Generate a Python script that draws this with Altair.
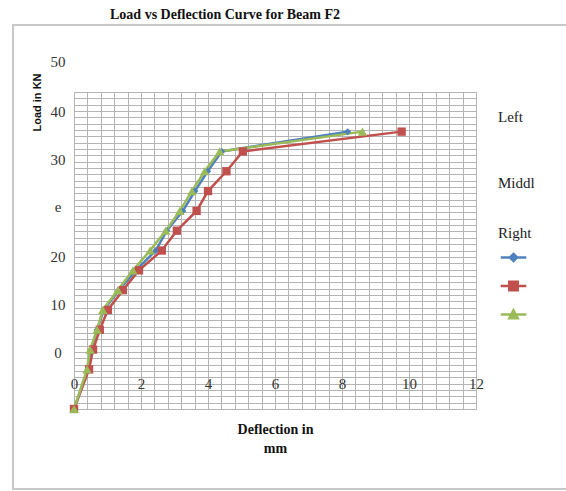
import altair as alt
import pandas as pd

# ---------------- data ----------------
series = ["Left", "Middl", "Right"]
load_kn = [0, 5, 7.5, 10, 12.5, 15, 17.5, 20, 22.5, 25, 27.5, 30, 32.5, 35]
defl_left = [0, 0.42, 0.51, 0.69, 0.89, 1.34, 1.85, 2.44, 2.77, 3.25, 3.61, 3.99, 4.41, 8.17]
defl_middl = [0, 0.45, 0.57, 0.77, 1.01, 1.46, 1.94, 2.62, 3.07, 3.66, 4.00, 4.55, 5.04, 9.78]
defl_right = [0, 0.39, 0.48, 0.69, 0.86, 1.31, 1.76, 2.27, 2.74, 3.16, 3.52, 3.90, 4.35, 8.61]
y_tick_labels = ["50", "40", "30", "e", "20", "10", "0"]
legend_labels = ["Left", "Middl", "Right"]

# ---------------- styling / layout ----------------
colors = ["#4f81bd", "#c0504d", "#9bbb59"]
marker_shapes = ["diamond", "square", "triangle-up"]
marker_sizes = [49, 90, 70]
legend_paths = [
    "M-3.2,0H3.2M0,-0.9L0.9,0L0,0.9L-0.9,0Z",
    "M-3.2,0H3.2M-1.05,-1.05H1.05V1.05H-1.05Z",
    "M-3.2,0H3.2M0,-1.05L1.05,0.95H-1.05Z",
]
W, H = 402, 317
SERIF = "Liberation Serif"
SANS = "Liberation Sans"
y_label_px = [-30, 20, 68, 115, 165, 213, 261]
legend_label_px = [25, 91, 141]

rows = []
for s, d in zip(series, [defl_left, defl_middl, defl_right]):
    for l, v in zip(load_kn, d):
        rows.append({"series": s, "defl": v, "load": l})
df = pd.DataFrame(rows)

grid_x = [i * 0.4 for i in range(31)]
grid_y = [i * 0.8 for i in range(51)]

x_scale = alt.Scale(domain=[0, 12], nice=False, zero=False)
y_scale = alt.Scale(domain=[0, 40], nice=False, zero=False)
color_scale = alt.Scale(domain=series, range=colors)

x_axis = alt.Axis(
    values=grid_x, grid=True, gridColor="#b4b4b4", gridWidth=1,
    ticks=False, domain=False,
    labelExpr="abs(datum.value - 2*round(datum.value/2)) < 0.01 ? format(datum.value, 'd') : ''",
    labelFont=SERIF, labelFontSize=15, labelColor="#333333",
    labelPadding=-26, labelBaseline="middle", labelOverlap=False, labelFlush=False,
    title=["Deflection in", "mm"], titleFont=SERIF, titleFontSize=14,
    titleFontWeight="bold", titleColor="#111111", titleX=201, titleY=13,
    titleBaseline="top", titleLineHeight=19, titleAlign="center",
)
y_axis = alt.Axis(
    values=grid_y, grid=True, gridColor="#b4b4b4", gridWidth=1,
    ticks=False, domain=False, labels=False,
    title="Load in KN", titleFont=SANS, titleFontSize=11, titleFontWeight="bold",
    titleColor="#111111", titleX=-37, titleY=10, titleAngle=270,
    titleAlign="center", titleBaseline="middle",
)

base = alt.Chart(df).encode(
    x=alt.X("defl:Q", scale=x_scale, axis=x_axis),
    y=alt.Y("load:Q", scale=y_scale, axis=y_axis),
)

lines = base.mark_line(strokeWidth=2.5).encode(
    color=alt.Color("series:N", scale=color_scale, legend=None),
    order=alt.Order("load:Q"),
)
points = base.mark_point(filled=True, opacity=1).encode(
    color=alt.Color("series:N", scale=color_scale, legend=None),
    shape=alt.Shape("series:N", scale=alt.Scale(domain=series, range=marker_shapes), legend=None),
    size=alt.Size("series:N", scale=alt.Scale(domain=series, range=marker_sizes), legend=None),
)

leg = alt.Legend(
    orient="none", legendX=434, legendY=160, title=None, labelExpr="''",
    symbolSize=64, rowPadding=9.5, padding=0, labelFontSize=8,
    symbolStrokeWidth=2.5, symbolOpacity=1,
)
legend_layer = base.transform_filter("false").mark_point(filled=True, strokeWidth=2.5).encode(
    color=alt.Color("series:N", scale=color_scale, legend=leg),
    stroke=alt.Stroke("series:N", scale=color_scale, legend=leg),
    shape=alt.Shape("series:N", scale=alt.Scale(domain=series, range=legend_paths), legend=leg),
)

dummy = pd.DataFrame({"a": [0]})

frame = alt.Chart(dummy).mark_rect(fill="transparent", stroke="#c8c8c8", strokeWidth=2).encode(
    x=alt.value(-61), x2=alt.value(500), y=alt.value(-67), y2=alt.value(397)
)

title = alt.Chart(dummy).mark_text(
    text="Load vs Deflection Curve for Beam F2", font=SERIF, fontSize=14,
    fontWeight="bold", color="#111111", align="center", baseline="middle",
).encode(x=alt.value(151), y=alt.value(-77))

texts = []
for lab, py in zip(y_tick_labels, y_label_px):
    texts.append(
        alt.Chart(dummy).mark_text(
            text=lab, font=SERIF, fontSize=15, color="#333333",
            align="center", baseline="middle",
        ).encode(x=alt.value(-16), y=alt.value(py))
    )
for lab, py in zip(legend_labels, legend_label_px):
    texts.append(
        alt.Chart(dummy).mark_text(
            text=lab, font=SERIF, fontSize=15, color="#222222",
            align="left", baseline="middle",
        ).encode(x=alt.value(424), y=alt.value(py))
    )

chart = alt.layer(frame, lines, points, legend_layer, title, *texts).resolve_scale(
    color="independent", shape="independent", stroke="independent", size="independent"
).properties(
    width=W, height=H,
    padding={"left": 74, "top": 92, "right": 90, "bottom": 82},
    autosize=alt.AutoSizeParams(type="none"),
).configure_view(stroke=None).configure(background="white")

chart.save("out.html", embed_options={"renderer": "svg", "actions": False})
